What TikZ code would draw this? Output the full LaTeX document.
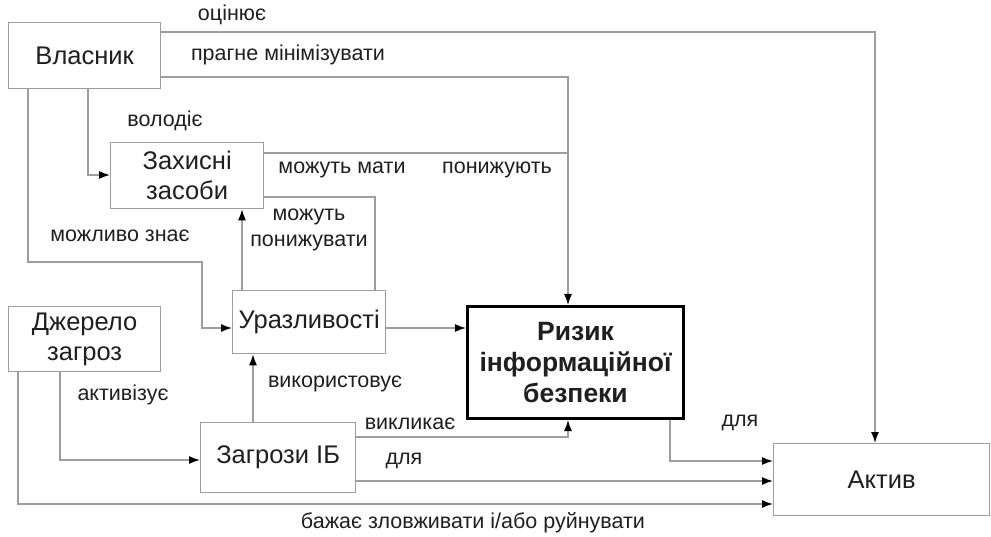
\documentclass[tikz,border=0pt]{standalone}
\usepackage{fontspec}
\setmainfont{Liberation Sans}
\usetikzlibrary{arrows.meta}
\definecolor{lngray}{gray}{0.62}
\definecolor{txt}{gray}{0.12}
\begin{document}
\begin{tikzpicture}[x=1pt,y=-1pt,
  box/.style={draw=lngray, line width=1.3pt, fill=white, anchor=north west, inner sep=0pt,
    align=center, text=txt, font=\fontsize{25.5}{30}\selectfont},
  riskbox/.style={box, draw=black, line width=3pt, font=\bfseries\fontsize{26.5}{31}\selectfont},
  ln/.style={draw=lngray, line width=1.3pt},
  arr/.style={ln, -{Latex[color=black,length=11pt,width=8pt]}},
  lbl/.style={text=txt, font=\fontsize{21.5}{26}\selectfont, align=center, inner sep=0pt}]
\useasboundingbox (0,0) rectangle (991,537);

% nodes
\node[box, minimum width=152pt, minimum height=66pt] (vl) at (8,22) {Власник};
\node[box, minimum width=153pt, minimum height=66pt] (zz) at (110,142) {Захисні\\засоби};
\node[box, minimum width=153pt, minimum height=63pt] (ur) at (232,290) {Уразливості};
\node[box, minimum width=152pt, minimum height=65pt] (dz) at (8,306) {Джерело\\загроз};
\node[box, minimum width=155pt, minimum height=70pt] (zg) at (200,422) {Загрози ІБ};
\node[riskbox, minimum width=216pt, minimum height=112pt] (rz) at (466,305) {Ризик\\інформаційної\\безпеки};
\node[box, minimum width=216pt, minimum height=72pt] (ak) at (773,443) {Актив};

\coordinate (j1) at (568,153);

% connectors
\draw[arr] (vl.east |- 0,32) -| (ak.north -| 875,0);
\draw[arr] (vl.east |- 0,77) -| (rz.north -| 568,0);
\draw[ln] (zz.east |- 0,153) -- (j1);
\draw[ln] (zz.east |- 0,197) -| (ur.north -| 375,0);
\draw[arr] (vl.south -| 88,0) |- (zz.west |- 0,175);
\draw[arr] (vl.south -| 28,0) |- (202,262) |- (ur.west |- 0,328);
\draw[arr] (ur.north -| 242,0) -- (zz.south -| 242,0);
\draw[arr] (zg.north -| 253,0) -- (ur.south -| 253,0);
\draw[arr] (ur.east |- 0,328) -- (rz.west |- 0,328);
\draw[arr] (zg.east |- 0,437) -| (rz.south -| 568,0);
\draw[arr] (rz.south -| 670,0) |- (ak.west |- 0,461);
\draw[arr] (zg.east |- 0,481) -- (ak.west |- 0,481);
\draw[arr] (dz.south -| 18,0) |- (ak.west |- 0,504);
\draw[arr] (dz.south -| 60,0) |- (zg.west |- 0,460);

% labels
\node[lbl] (l1) at (232,15) {оцінює};
\node[lbl] (l2) at (288,55) {прагне мінімізувати};
\node[lbl] (l3) at (165,121) {володіє};
\node[lbl] (l4) at (342,170) {можуть мати};
\node[lbl] (l5) at (497,170) {понижують};
\node[lbl] (l6) at (309,230) {можуть\\понижувати};
\node[lbl] (l7) at (120,236) {можливо знає};
\node[lbl] (l8) at (123,395) {активізує};
\node[lbl] (l9) at (335,384) {використовує};
\node[lbl] (l10) at (410,424) {викликає};
\node[lbl] (l11) at (404,461) {для};
\node[lbl] (l12) at (740,423) {для};
\node[lbl] (l13) at (473,523) {бажає зловживати і/або руйнувати};
\end{tikzpicture}
\end{document}
